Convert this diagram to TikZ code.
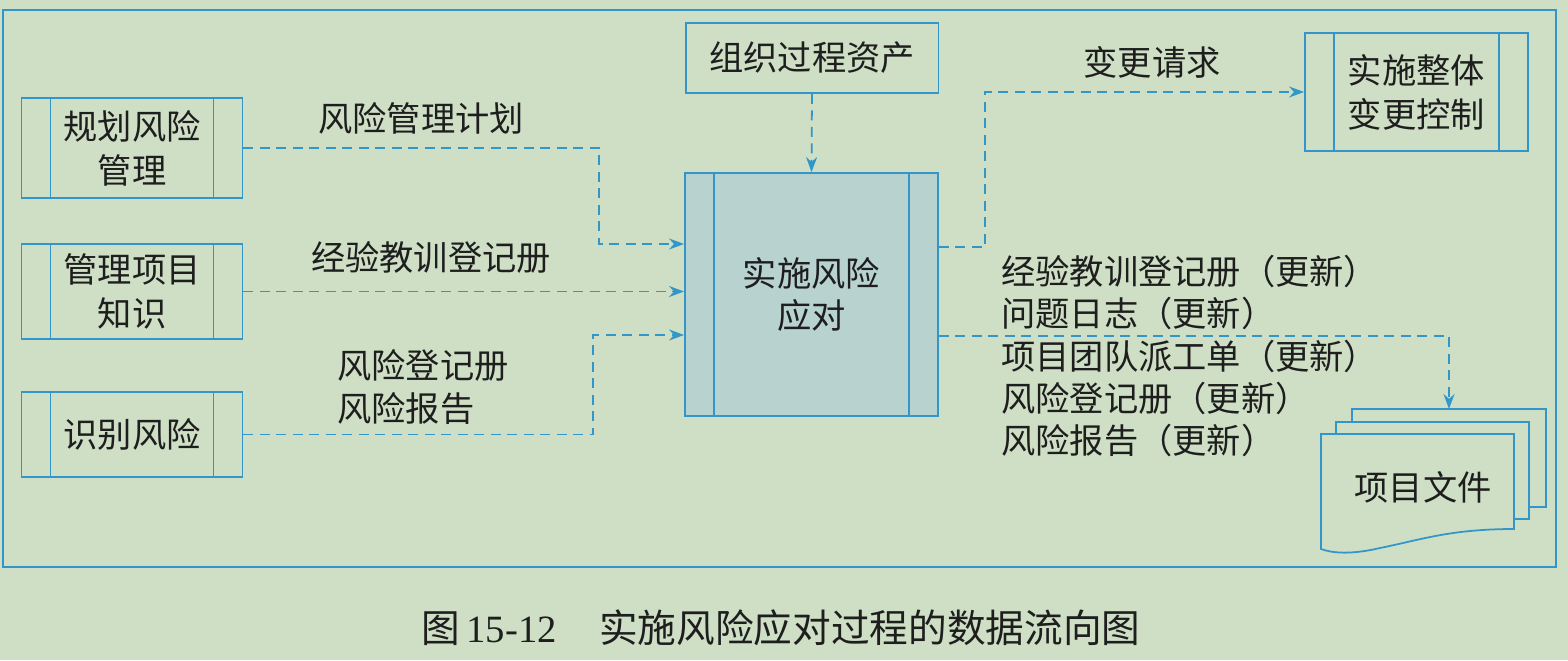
\documentclass[tikz,border=0pt]{standalone}
\usepackage{fontspec}
\setmainfont{Liberation Serif}
\newfontfamily\cjk{Noto Sans CJK SC}
\usepackage{tikz}
\usetikzlibrary{arrows.meta}

\definecolor{bgcol}{HTML}{CEDFC5}
\definecolor{lineblue}{HTML}{3297C8}
\definecolor{tipblue}{HTML}{2A9FD6}
\definecolor{mainfill}{HTML}{B7D2CF}
\definecolor{inkcol}{HTML}{1E1E1E}

\tikzset{
  procbox/.style={draw=lineblue, line width=1.1pt, inner sep=0pt, align=center,
    text=inkcol, font=\cjk\fontsize{19.5}{25}\selectfont,
    path picture={\draw[lineblue, line width=1pt]
      ([xshift=0.58cm]path picture bounding box.north west) -- ([xshift=0.58cm]path picture bounding box.south west)
      ([xshift=-0.58cm]path picture bounding box.north east) -- ([xshift=-0.58cm]path picture bounding box.south east);}},
  plainbox/.style={draw=lineblue, line width=1.1pt, inner sep=0pt, align=center,
    text=inkcol, font=\cjk\fontsize{19.5}{25}\selectfont},
  lbl/.style={text=inkcol, inner sep=0pt, align=left, font=\cjk\fontsize{19.5}{24}\selectfont},
  flow/.style={draw=lineblue, line width=1pt, dash pattern=on 0.2cm off 0.13cm,
    -{Stealth[length=0.3cm, width=0.22cm, fill=tipblue]}},
}

\begin{document}
\begin{tikzpicture}[x=0.02cm, y=-0.02cm]
    \useasboundingbox (0,0) rectangle (1568,660);
    \fill[bgcol] (0,0) rectangle (1568,660);
    \draw[lineblue, line width=1pt] (3,10) rectangle (1556,567);

    % inputs
    \node[procbox, minimum width=4.42cm, minimum height=2.0cm] (plan) at (132,148) {规划风险\\管理};
    \node[procbox, minimum width=4.42cm, minimum height=1.9cm] (know) at (132,291.5) {管理项目\\知识};
    \node[procbox, minimum width=4.42cm, minimum height=1.7cm] (ident) at (132,434.5) {识别风险};
    \node[plainbox, minimum width=5.06cm, minimum height=1.4cm] (opa) at (812,58) {组织过程资产};

    % process
    \node[procbox, fill=mainfill, minimum width=5.06cm, minimum height=4.86cm,
          font=\cjk\fontsize{19.5}{24}\selectfont] (central) at (811.5,294.5) {实施风险\\应对};

    % outputs
    \node[procbox, minimum width=4.46cm, minimum height=2.36cm] (ichange) at (1416.5,92) {实施整体\\变更控制};

    \draw[lineblue, line width=1pt, fill=bgcol] (1352,409) rectangle (1546,507);
    \draw[lineblue, line width=1pt, fill=bgcol] (1336,422) rectangle (1529,519);
    \draw[lineblue, line width=1pt, fill=bgcol] (1321,434) -- (1514,434) -- (1514,529)
        .. controls (1450,529) and (1420,540) .. (1380,548)
        .. controls (1350,555) and (1332,553) .. (1321,549) -- cycle;
    \node[lbl] (docs) at (1423,487) {项目文件};
    \coordinate (doctop) at (1449,409);

    % labels
    \node[lbl] (l1) at (421,118) {风险管理计划};
    \node[lbl] (l2) at (431,257) {经验教训登记册};
    \node[lbl, anchor=west] (l3) at (337,387) {风险登记册\\风险报告};
    \node[lbl] (l4) at (1152,62) {变更请求};
    \node[lbl, anchor=west] (l5) at (1001,356) {经验教训登记册（更新）\\问题日志（更新）\\项目团队派工单（更新）\\风险登记册（更新）\\风险报告（更新）};

    % flows
    \draw[flow] (plan.east) -| ([xshift=-1.7cm, yshift=1.01cm]central.west) -- ([yshift=1.01cm]central.west);
    \draw[flow] (know.east) -- (know.east -| central.west);
    \draw[flow] (ident.east) -| ([xshift=-1.82cm, yshift=-0.81cm]central.west) -- ([yshift=-0.81cm]central.west);
    \draw[flow] (opa.south) -- (central.north);
    \draw[flow] ([yshift=0.95cm]central.east) -- ++(0.92cm,0) |- (ichange.west);
    \draw[flow] ([yshift=-0.83cm]central.east) -| (doctop);

    \node[text=inkcol, font=\fontsize{22}{26}\selectfont] (caption) at (781,628)
        {{\cjk 图}\,15-12\hspace{1.1em}{\cjk 实施风险应对过程的数据流向图}};
\end{tikzpicture}
\end{document}
